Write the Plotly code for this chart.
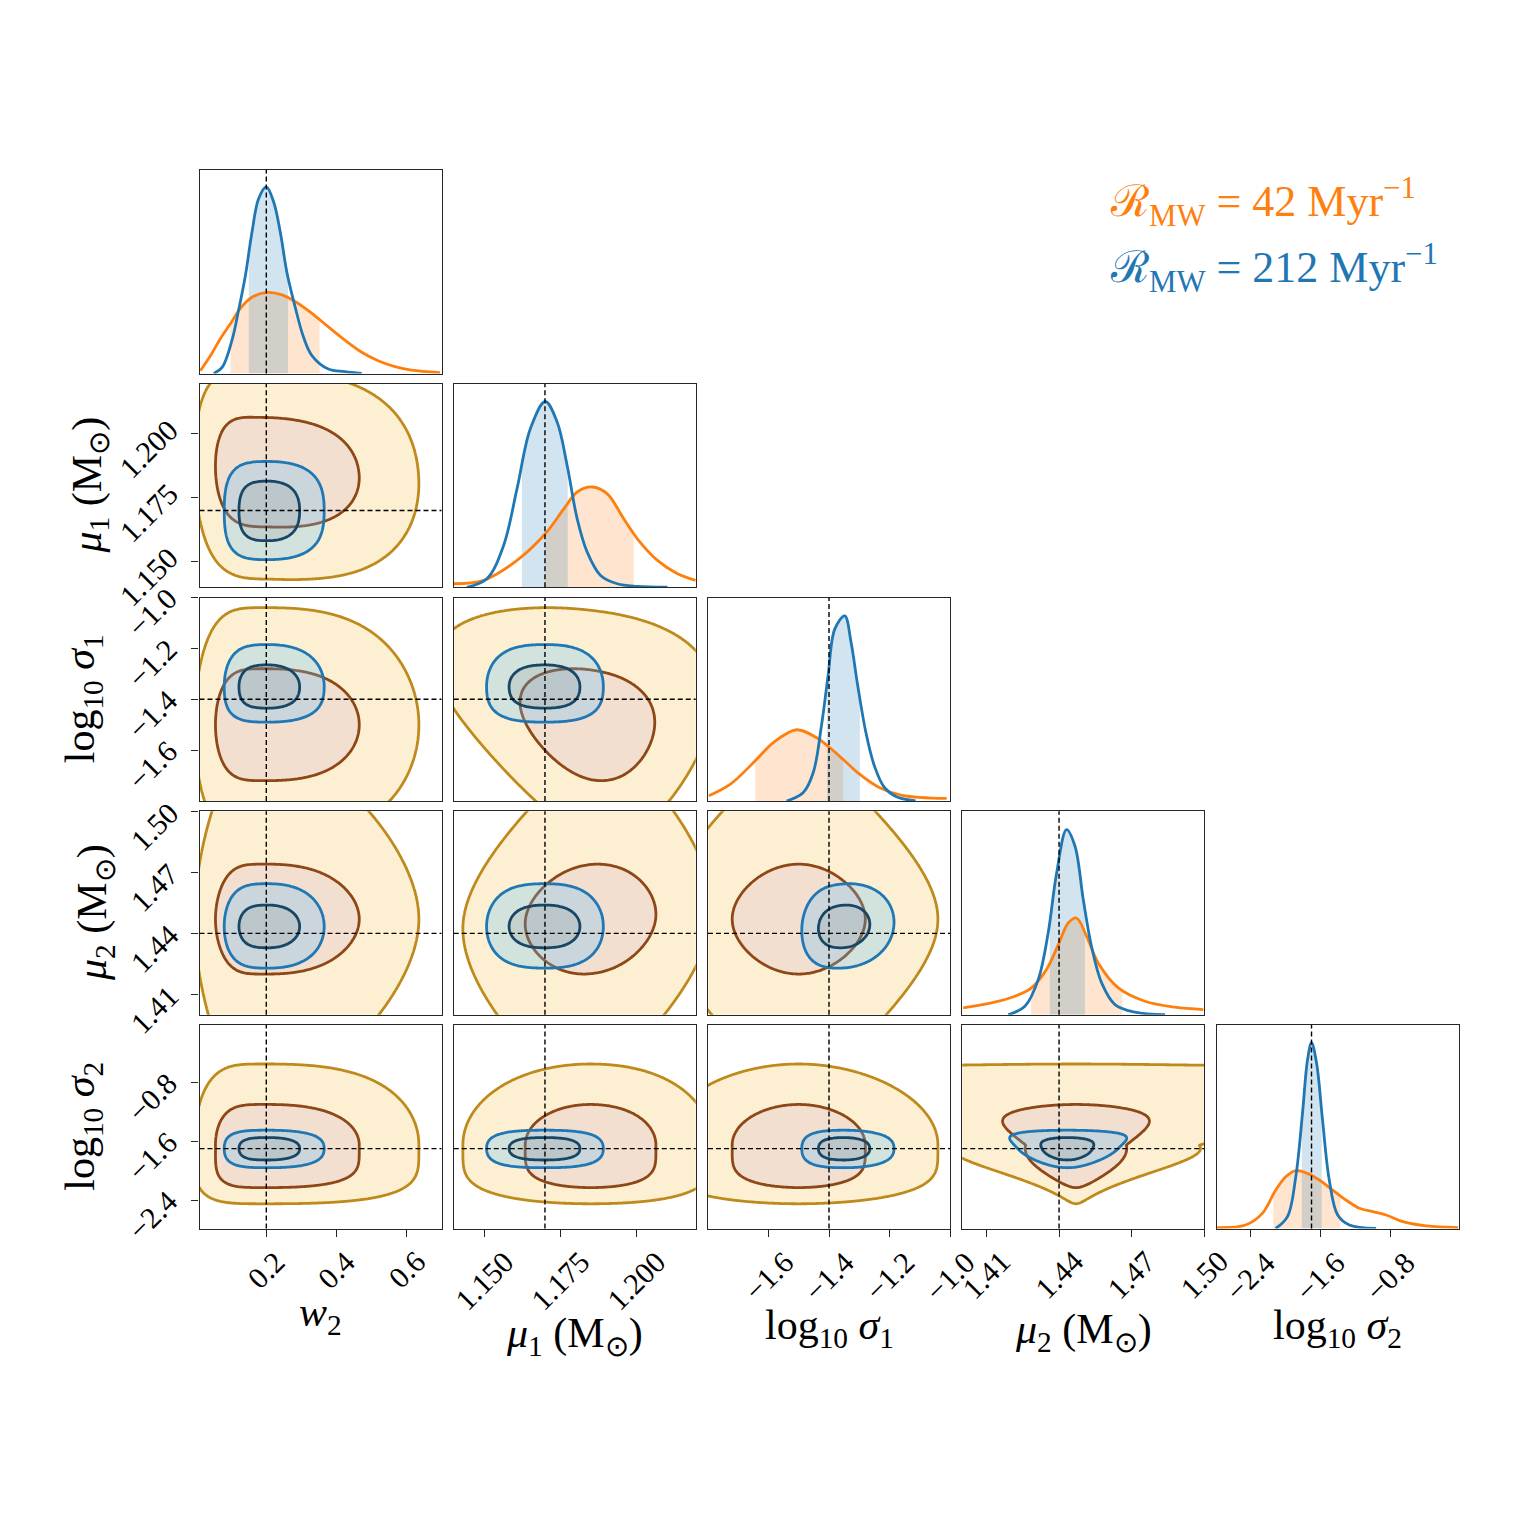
import numpy as np
import plotly.graph_objects as go

# ---------------- axes / labels ----------------
x_titles = ["<i>w</i><sub>2</sub>",
            "<i>μ</i><sub>1</sub> (M<sub>⊙</sub>)",
            "log<sub>10</sub> <i>σ</i><sub>1</sub>",
            "<i>μ</i><sub>2</sub> (M<sub>⊙</sub>)",
            "log<sub>10</sub> <i>σ</i><sub>2</sub>"]
truths = [0.2, 1.17, -1.4, 1.44, -1.7]
ranges = [[0.0095, 0.6995], [1.14, 1.2196], [-1.8, -1.0], [1.40, 1.50], [-2.786, -0.02]]
tick_vals = [[0.2, 0.4, 0.6], [1.150, 1.175, 1.200], [-1.6, -1.4, -1.2, -1.0],
             [1.41, 1.44, 1.47, 1.50], [-2.4, -1.6, -0.8]]
tick_text = [["0.2", "0.4", "0.6"], ["1.150", "1.175", "1.200"], ["−1.6", "−1.4", "−1.2", "−1.0"],
             ["1.41", "1.44", "1.47", "1.50"], ["−2.4", "−1.6", "−0.8"]]
legend_text = ["ℛ<sub>MW</sub> = 42 Myr<sup>−1</sup>", "ℛ<sub>MW</sub> = 212 Myr<sup>−1</sup>"]

# ---------------- 1D marginals ----------------
w2_x_or = [0.012, 0.041, 0.069, 0.098, 0.126, 0.159, 0.202, 0.245, 0.282, 0.330, 0.377, 0.425, 0.472, 0.519, 0.567, 0.614, 0.695]
w2_y_or = [0.015, 0.097, 0.188, 0.270, 0.352, 0.412, 0.438, 0.425, 0.389, 0.325, 0.252, 0.179, 0.115, 0.069, 0.037, 0.018, 0.005]
w2_x_bl = [0.050, 0.074, 0.102, 0.121, 0.140, 0.159, 0.178, 0.200, 0.221, 0.240, 0.259, 0.282, 0.306, 0.330, 0.377, 0.424, 0.472]
w2_y_bl = [0.0, 0.033, 0.179, 0.343, 0.525, 0.762, 0.945, 1.009, 0.927, 0.762, 0.543, 0.361, 0.197, 0.097, 0.024, 0.010, 0.0]

mu1_x_or = [1.1399, 1.1498, 1.1608, 1.1701, 1.1762, 1.1806, 1.1855, 1.1905, 1.1959, 1.2004, 1.2070, 1.2136, 1.2196]
mu1_y_or = [0.019, 0.037, 0.145, 0.289, 0.424, 0.515, 0.542, 0.505, 0.370, 0.262, 0.145, 0.073, 0.037]
mu1_x_bl = [1.1443, 1.1509, 1.1564, 1.1608, 1.1652, 1.1701, 1.1740, 1.1773, 1.1806, 1.1839, 1.1883, 1.1938, 1.2004, 1.2103]
mu1_y_bl = [0.0, 0.046, 0.226, 0.532, 0.857, 1.004, 0.893, 0.658, 0.370, 0.190, 0.064, 0.019, 0.005, 0.0]

ls1_x_or = [-1.797, -1.726, -1.644, -1.584, -1.507, -1.442, -1.398, -1.354, -1.299, -1.234, -1.159, -1.011]
ls1_y_or = [0.028, 0.091, 0.217, 0.316, 0.385, 0.343, 0.289, 0.226, 0.145, 0.073, 0.031, 0.014]
ls1_x_bl = [-1.540, -1.485, -1.452, -1.425, -1.403, -1.381, -1.348, -1.327, -1.305, -1.278, -1.250, -1.217, -1.179, -1.114]
ls1_y_bl = [0.0, 0.046, 0.154, 0.406, 0.677, 0.929, 1.001, 0.857, 0.623, 0.370, 0.190, 0.073, 0.024, 0.0]

mu2_x_or = [1.4004, 1.4121, 1.4218, 1.4286, 1.4348, 1.4397, 1.4438, 1.4472, 1.4514, 1.4562, 1.4645, 1.4755, 1.4879, 1.4996]
mu2_y_or = [0.037, 0.064, 0.100, 0.145, 0.244, 0.379, 0.496, 0.523, 0.424, 0.280, 0.145, 0.073, 0.041, 0.028]
mu2_x_bl = [1.4190, 1.4259, 1.4314, 1.4355, 1.4390, 1.4431, 1.4466, 1.4500, 1.4534, 1.4576, 1.4631, 1.4714, 1.4838]
mu2_y_bl = [0.0, 0.046, 0.190, 0.442, 0.766, 1.001, 0.911, 0.623, 0.370, 0.172, 0.055, 0.014, 0.0]

ls2_x_or = [-2.779, -2.454, -2.262, -2.109, -1.995, -1.880, -1.746, -1.611, -1.459, -1.306, -1.152, -0.999, -0.847, -0.655, -0.388, -0.024]
ls2_y_or = [0.005, 0.019, 0.082, 0.208, 0.280, 0.313, 0.298, 0.262, 0.208, 0.154, 0.109, 0.091, 0.073, 0.037, 0.014, 0.005]
ls2_x_bl = [-2.110, -1.975, -1.880, -1.803, -1.746, -1.700, -1.642, -1.574, -1.497, -1.401, -1.267, -0.962]
ls2_y_bl = [0.0, 0.064, 0.280, 0.623, 0.911, 1.004, 0.893, 0.586, 0.262, 0.073, 0.019, 0.0]

# credible-interval shading on the diagonal
shade_or = [[0.098, 0.352], [1.1701, 1.1992], [-1.644, -1.353], [1.4284, 1.4661], [-2.136, -1.370]]
shade_bl = [[0.150, 0.262], [1.1624, 1.1775], [-1.407, -1.298], [1.4362, 1.4507], [-1.811, -1.582]]

# ---------------- 2D contour summaries (centre, inner/outer extents) ----------------
or_center = [0.205, 1.185, -1.50, 1.447, -1.65]
or_in_lo = [0.150, 0.0215, 0.22, 0.027, 0.58]
or_in_hi = [0.260, 0.0215, 0.22, 0.027, 0.55]
or_out_lo = [0.210, 0.042, 0.45, 0.085, 0.80]
or_out_hi = [0.430, 0.040, 0.46, 0.085, 1.10]

bl_center = [0.205, 1.170, -1.35, 1.4434, -1.70]
bl_in_lo = [0.083, 0.0118, 0.085, 0.0105, 0.155]
bl_in_hi = [0.090, 0.0115, 0.085, 0.0105, 0.150]
bl_out_lo = [0.125, 0.0192, 0.140, 0.0205, 0.260]
bl_out_hi = [0.160, 0.0192, 0.165, 0.0210, 0.250]

pair_rows = [1, 2, 2, 3, 3, 3, 4, 4, 4, 4]
pair_cols = [0, 0, 1, 0, 1, 2, 0, 1, 2, 3]
or_rho = [-0.10, 0.0, -0.20, 0.0, 0.10, 0.0, 0.0, 0.0, 0.0, 0.0]
bl_rho = [0.0, 0.0, 0.0, 0.0, 0.0, 0.10, 0.0, 0.0, 0.0, 0.0]
or_funnel = [0.0, 0.0, 0.25, 0.0, 0.0, 0.0, 0.0, 0.0, 0.0, 0.9]
bl_funnel = [0.0, 0.0, 0.0, 0.0, 0.0, 0.0, 0.0, 0.0, 0.0, 0.3]

# ---------------- styles ----------------
C_OR = "#ff7f0e"
C_BL = "#1f77b4"
OR_OUT_FILL, OR_OUT_LINE = "#fdf0d2", "#bf8a1c"
OR_IN_FILL, OR_IN_LINE = "#f2dfcf", "#8e4716"
BL_OUT_FILL, BL_OUT_LINE = "rgba(100,190,250,0.28)", "#1f77b4"
BL_IN_FILL, BL_IN_LINE = "rgba(70,70,70,0.10)", "#184766"
FONT = "Liberation Serif"
S = 1536
OFF = 8  # page body margin
P = 5
col_left = [199.5 - OFF + 254.25 * j for j in range(P)]
row_top = [170 - OFF + 213.75 * i for i in range(P)]
PW, PH = 242, 203.5

diag_or = [(w2_x_or, w2_y_or), (mu1_x_or, mu1_y_or), (ls1_x_or, ls1_y_or), (mu2_x_or, mu2_y_or), (ls2_x_or, ls2_y_or)]
diag_bl = [(w2_x_bl, w2_y_bl), (mu1_x_bl, mu1_y_bl), (ls1_x_bl, ls1_y_bl), (mu2_x_bl, mu2_y_bl), (ls2_x_bl, ls2_y_bl)]


def warp(x, c, in_lo, in_hi, out_lo, out_hi):
    d = x - c
    pos = d >= 0
    a = np.where(pos, in_hi, in_lo)
    R = np.where(pos, out_hi / in_hi, out_lo / in_lo)
    t = np.abs(d) / a
    k = (2 - R) / (R * (R - 1))
    u = t + k * t * (t - 1)
    slope = 1 + k * (2 * R - 1)
    u = np.where(t > R, 2 + slope * (t - R), u)
    return np.sign(d) * u


def funnel_norm(f):
    if f <= 0:
        return 1.0
    v = np.linspace(-0.999, 0.999, 2001)
    return max(1.0, np.max(np.sqrt(1 - v ** 2) * np.exp(f * v)) / 1.1)


def shade(xs, ys, lo, hi):
    xs = np.asarray(xs); ys = np.asarray(ys)
    m = (xs > lo) & (xs < hi)
    sx = np.concatenate([[lo], xs[m], [hi]])
    sy = np.concatenate([[np.interp(lo, xs, ys)], ys[m], [np.interp(hi, xs, ys)]])
    return sx, sy


def px_x(p):
    return (p - OFF) / S


def px_y(p):
    return 1 - (p - OFF) / S


fig = go.Figure()
layout = dict(width=S, height=S, margin=dict(l=0, r=0, t=0, b=0), autosize=False,
              paper_bgcolor="white", plot_bgcolor="white", showlegend=False)
shapes, annotations = [], []
names = {}
n = 0
for i in range(P):
    for j in range(i + 1):
        n += 1
        xn = "x" if n == 1 else f"x{n}"
        yn = "y" if n == 1 else f"y{n}"
        names[(i, j)] = (xn, yn)
        xa = dict(domain=[col_left[j] / S, (col_left[j] + PW) / S], anchor=yn, range=ranges[j],
                  showgrid=False, zeroline=False, showline=True, mirror=True, linecolor="#262626",
                  linewidth=1.3, showticklabels=False, tickvals=tick_vals[j],
                  ticks="outside" if i == P - 1 else "", ticklen=7, tickwidth=1.3, tickcolor="#262626")
        ya = dict(domain=[1 - (row_top[i] + PH) / S, 1 - row_top[i] / S], anchor=xn,
                  showgrid=False, zeroline=False, showline=True, mirror=True, linecolor="#262626",
                  linewidth=1.3, showticklabels=False, ticklen=7, tickwidth=1.3, tickcolor="#262626")
        if i == j:
            ya.update(range=[0, 1.1], ticks="")
        else:
            ya.update(range=ranges[i], tickvals=tick_vals[i], ticks="outside" if j == 0 else "")
        layout["xaxis" if n == 1 else f"xaxis{n}"] = xa
        layout["yaxis" if n == 1 else f"yaxis{n}"] = ya

# ---- diagonal panels ----
for p in range(P):
    xn, yn = names[(p, p)]
    for (xs, ys), (lo, hi), fc in [(diag_or[p], shade_or[p], "rgba(255,127,14,0.2)"),
                                   (diag_bl[p], shade_bl[p], "rgba(31,119,180,0.2)")]:
        sx, sy = shade(xs, ys, lo, hi)
        fig.add_trace(go.Scatter(x=sx, y=sy, mode="lines", line=dict(width=0, shape="spline"),
                                 fill="tozeroy", fillcolor=fc, xaxis=xn, yaxis=yn, hoverinfo="skip"))
    for (xs, ys), col in [(diag_or[p], C_OR), (diag_bl[p], C_BL)]:
        fig.add_trace(go.Scatter(x=xs, y=ys, mode="lines", line=dict(color=col, width=2.8, shape="spline"),
                                 xaxis=xn, yaxis=yn, hoverinfo="skip"))

# ---- off-diagonal panels ----
series = [
    (or_center, or_in_lo, or_in_hi, or_out_lo, or_out_hi, or_rho, or_funnel,
     OR_OUT_FILL, OR_OUT_LINE, OR_IN_FILL, OR_IN_LINE),
    (bl_center, bl_in_lo, bl_in_hi, bl_out_lo, bl_out_hi, bl_rho, bl_funnel,
     BL_OUT_FILL, BL_OUT_LINE, BL_IN_FILL, BL_IN_LINE),
]
for q in range(len(pair_rows)):
    i, j = pair_rows[q], pair_cols[q]
    xn, yn = names[(i, j)]
    xr, yr = ranges[j], ranges[i]
    gx = np.linspace(xr[0] - 0.04 * (xr[1] - xr[0]), xr[1] + 0.04 * (xr[1] - xr[0]), 181)
    gy = np.linspace(yr[0] - 0.04 * (yr[1] - yr[0]), yr[1] + 0.04 * (yr[1] - yr[0]), 181)
    X, Y = np.meshgrid(gx, gy)
    for (cen, ilo, ihi, olo, ohi, rho, fun, ofill, oline, ifill, iline) in series:
        u = warp(X, cen[j], ilo[j], ihi[j], olo[j], ohi[j])
        v = warp(Y, cen[i], ilo[i], ihi[i], olo[i], ohi[i])
        f = fun[q]
        ue = u * np.exp(-f * v) * funnel_norm(f)
        r = rho[q]
        Z = np.sqrt((ue ** 2 - 2 * r * ue * v + v ** 2) / (1 - r ** 2))
        for lvl, fc, lc in [(2.0, ofill, oline), (1.0, ifill, iline)]:
            fig.add_trace(go.Contour(x=gx, y=gy, z=Z, xaxis=xn, yaxis=yn, showscale=False,
                                     contours=dict(type="constraint", operation=">", value=lvl),
                                     line=dict(color=lc, width=2.8, smoothing=1.0), fillcolor=fc,
                                     hoverinfo="skip"))

# ---- truth lines ----
dash = dict(color="black", width=1.4, dash="5px,3px")
for (i, j), (xn, yn) in names.items():
    shapes.append(dict(type="line", xref=xn, yref=f"{yn} domain", x0=truths[j], x1=truths[j], y0=0, y1=1,
                       line=dash, layer="above"))
    if i != j:
        shapes.append(dict(type="line", xref=f"{xn} domain", yref=yn, x0=0, x1=1, y0=truths[i], y1=truths[i],
                           line=dash, layer="above"))

# ---- tick labels (rotated, as in the reference) ----
TF = 30


def box(txt):
    L = sum(0.5 if ch.isdigit() else (0.28 if ch == "." else 0.7) for ch in txt) * TF
    return 0.707 * (L + 0.65 * TF)


for j in range(P):
    xn, _ = names[(P - 1, j)]
    for v, t in zip(tick_vals[j], tick_text[j]):
        cy = 1249 + box(t) / 2
        annotations.append(dict(x=v, xref=xn, y=px_y(cy), yref="paper", text=t, showarrow=False,
                                textangle=-45, xanchor="center", yanchor="middle",
                                font=dict(family=FONT, size=TF, color="black")))
for i in range(1, P):
    _, yn = names[(i, 0)]
    for v, t in zip(tick_vals[i], tick_text[i]):
        cx = 180 - box(t) / 2
        annotations.append(dict(x=px_x(cx), xref="paper", y=v, yref=yn, yshift=-15, text=t, showarrow=False,
                                textangle=-45, xanchor="center", yanchor="middle",
                                font=dict(family=FONT, size=TF, color="black")))

# ---- axis titles ----
x_title_y = [1315, 1336, 1328, 1332, 1328]
for j in range(P):
    cx = col_left[j] + OFF + PW / 2
    annotations.append(dict(x=px_x(cx), y=px_y(x_title_y[j]), xref="paper", yref="paper", text=x_titles[j],
                            showarrow=False, xanchor="center", yanchor="middle",
                            font=dict(family=FONT, size=42, color="black")))
y_title_x = [90, 83, 95, 83]
for i in range(1, P):
    cy = row_top[i] + OFF + PH / 2
    annotations.append(dict(x=px_x(y_title_x[i - 1]), y=px_y(cy), xref="paper", yref="paper", text=x_titles[i],
                            showarrow=False, textangle=-90, xanchor="center", yanchor="middle",
                            font=dict(family=FONT, size=42, color="black")))

# ---- legend text ----
for txt, col, cy in zip(legend_text, [C_OR, C_BL], [202, 268]):
    annotations.append(dict(x=px_x(1108), y=px_y(cy), xref="paper", yref="paper", text=txt, showarrow=False,
                            xanchor="left", yanchor="middle", font=dict(family=FONT, size=44, color=col)))

layout["shapes"] = shapes
layout["annotations"] = annotations
fig.update_layout(**layout)
fig.write_html("out.html")
